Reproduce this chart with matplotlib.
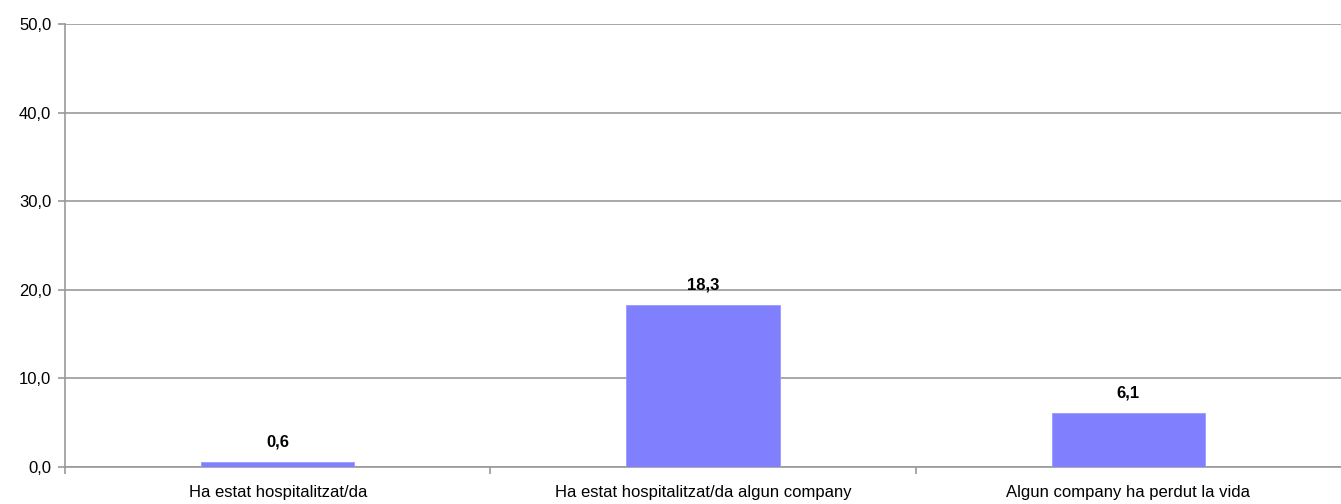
import matplotlib
matplotlib.use("Agg")
import matplotlib.pyplot as plt

categories = ["Ha estat hospitalitzat/da", "Ha estat hospitalitzat/da algun company", "Algun company ha perdut la vida"]
values = [0.6, 18.3, 6.1]
yticks = [0, 10, 20, 30, 40, 50]

plt.rcParams['font.family'] = ['Liberation Sans', 'DejaVu Sans']

fig = plt.figure(figsize=(13.41, 5.04), dpi=100)
ax = fig.add_axes([0.0485, 0.0734, 0.9515, 0.8786])

x = list(range(len(categories)))
ax.bar(x, values, width=0.36, color="#8080FF", edgecolor="#9999FF", linewidth=0.6, zorder=3)
for xi, v in zip(x, values):
    ax.annotate(f"{v:.1f}".replace(".", ","), (xi, v), xytext=(0, 9), textcoords="offset points",
                ha="center", va="bottom", fontsize=12, fontweight="bold", color="black")

ax.set_xlim(-0.5, 2.5)
ax.set_ylim(0, 50)
ax.set_yticks(yticks)
ax.set_yticklabels([f"{t:.1f}".replace(".", ",") for t in yticks], fontsize=12)
ax.yaxis.grid(True, color="#999999", linewidth=1.2, zorder=0)
ax.set_axisbelow(True)

ax.set_xticks([-0.5, 0.5, 1.5])
ax.set_xticklabels([])
ax.set_xticks(x, minor=True)
ax.set_xticklabels(categories, minor=True, fontsize=12)
ax.tick_params(axis="x", which="minor", length=0, pad=13)
ax.tick_params(axis="x", which="major", length=5, color="#999999", width=1.2)
ax.tick_params(axis="y", length=5, color="#999999", width=1.2, pad=5)

for s in ["top", "right"]:
    ax.spines[s].set_visible(False)
for s in ["left", "bottom"]:
    ax.spines[s].set_color("#999999")
    ax.spines[s].set_linewidth(1.2)

fig.savefig("out.png", dpi=100)
